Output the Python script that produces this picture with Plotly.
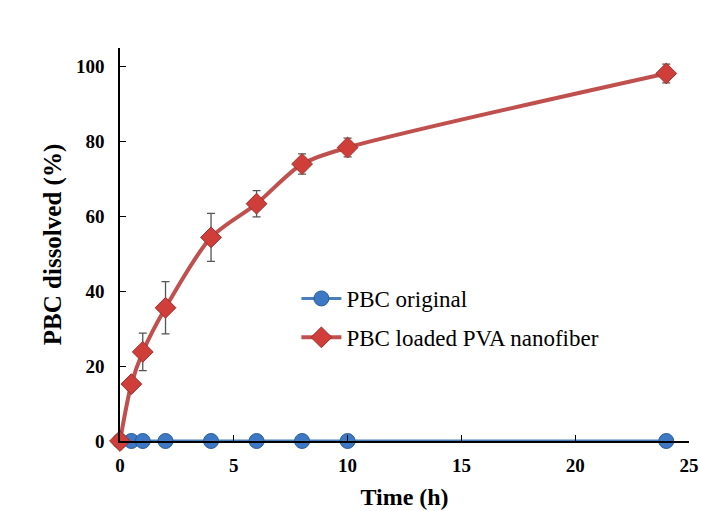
import plotly.graph_objects as go

time_h = [0, 0.5, 1, 2, 4, 6, 8, 10, 24]
pbc_original = [0, 0, 0, 0, 0, 0, 0, 0, 0]
pbc_nanofiber = [0, 15.2, 23.8, 35.6, 54.4, 63.4, 74.0, 78.4, 98.2]
pbc_nanofiber_err = [0, 1.5, 5.0, 7.0, 6.4, 3.5, 2.7, 2.5, 2.5]

x_ticks = [0, 5, 10, 15, 20, 25]
y_ticks = [0, 20, 40, 60, 80, 100]

serif = "Liberation Serif, Times New Roman, serif"

fig = go.Figure()
fig.add_trace(go.Scatter(
    x=time_h, y=pbc_original, name="PBC original", legendgroup="a",
    mode="lines+markers", line=dict(color="#4A7EBB", width=3, shape="spline"),
    marker=dict(symbol="circle", size=15, color="#3D78C4",
                line=dict(color="#2B5C99", width=1)),
    cliponaxis=False,
))
fig.add_trace(go.Scatter(
    x=time_h, y=pbc_nanofiber, name="PBC loaded PVA nanofiber", legendgroup="b",
    mode="lines+markers", line=dict(color="#C0504D", width=4, shape="spline", smoothing=0.8),
    marker=dict(symbol="diamond", size=16, color="#D03E3A",
                line=dict(color="#9C2F2C", width=1)),
    error_y=dict(type="data", array=pbc_nanofiber_err, visible=True,
                 color="#555555", thickness=1.3, width=4),
    cliponaxis=False,
))

fig.update_layout(
    width=701, height=511,
    paper_bgcolor="white", plot_bgcolor="white",
    margin=dict(l=120, r=12, t=48, b=70, autoexpand=False),
    font=dict(family=serif, color="black"),
    showlegend=True,
    legend=dict(x=0.31, y=0.313, xanchor="left", yanchor="middle",
                font=dict(family=serif, size=23, color="black"),
                bgcolor="rgba(0,0,0,0)", itemwidth=40,
                traceorder="grouped", tracegroupgap=6),
    xaxis=dict(
        range=[0, 25], tickvals=x_ticks, showgrid=False, zeroline=False,
        showline=True, linecolor="black", linewidth=1.5,
        ticks="inside", ticklen=6, tickcolor="black", automargin=False,
        ticklabelstandoff=6, ticklabeloverflow="allow",
        tickfont=dict(family=serif, size=19, color="black", weight="bold"),
        title=dict(text="<b>Time (h)</b>", font=dict(family=serif, size=24), standoff=14),
    ),
    yaxis=dict(
        range=[0, 105], tickvals=y_ticks, showgrid=False, zeroline=False,
        showline=True, linecolor="black", linewidth=1.5,
        ticks="inside", ticklen=6, tickcolor="black", automargin=False,
        ticklabelstandoff=10, ticklabeloverflow="allow",
        tickfont=dict(family=serif, size=19, color="black", weight="bold"),
        title=dict(text="<b>PBC dissolved (%)</b>", font=dict(family=serif, size=25), standoff=7),
    ),
)

# remove the default page margin so the 701x511 figure fills the window exactly
fig.write_html("out.html", config={"displayModeBar": False},
               post_script="document.body.style.margin='0px';")
